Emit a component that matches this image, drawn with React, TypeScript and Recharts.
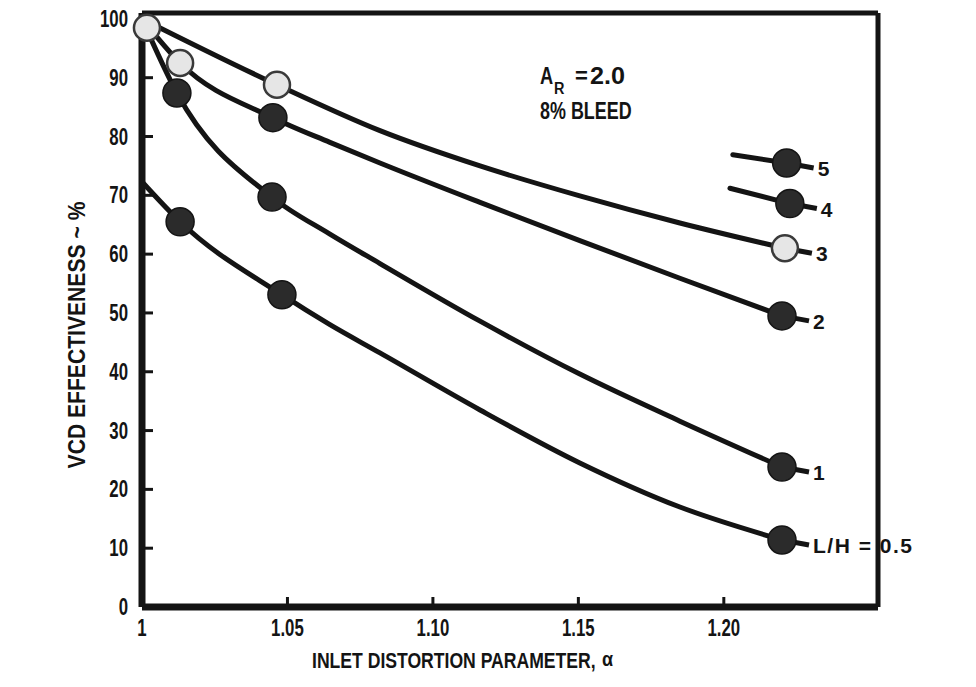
import { ComposedChart, Line, Scatter, XAxis, YAxis, ReferenceLine, Label } from 'recharts';

type Pt = { a: number; v: number };

const FONT = "'Liberation Sans', Arial, sans-serif";
const INK = '#141414';
const X_MAX = 1.253;
const Y_MAX = 101;

const xTicks = [1, 1.05, 1.1, 1.15, 1.2];
const yTicks = [0, 10, 20, 30, 40, 50, 60, 70, 80, 90, 100];

// traced curves: a = inlet distortion parameter, v = VCD effectiveness (%)
const curve05: Pt[] = [
  { a: 1.0, v: 72.3 }, { a: 1.0131, v: 65.5 }, { a: 1.0481, v: 53.1 }, { a: 1.0646, v: 48.0 },
  { a: 1.0818, v: 43.2 }, { a: 1.1162, v: 33.5 }, { a: 1.1505, v: 24.5 }, { a: 1.1849, v: 17.0 },
  { a: 1.22, v: 11.4 },
];
const curve1: Pt[] = [
  { a: 1.0, v: 100 }, { a: 1.012, v: 87.4 }, { a: 1.0447, v: 69.7 }, { a: 1.0646, v: 63.4 },
  { a: 1.0818, v: 58.4 }, { a: 1.1162, v: 48.6 }, { a: 1.1505, v: 39.6 }, { a: 1.1849, v: 31.6 },
  { a: 1.22, v: 23.8 },
];
const curve2: Pt[] = [
  { a: 1.0, v: 100 }, { a: 1.0131, v: 92.5 }, { a: 1.045, v: 83.2 }, { a: 1.0646, v: 79.0 },
  { a: 1.0818, v: 75.5 }, { a: 1.1162, v: 68.8 }, { a: 1.1505, v: 62.3 }, { a: 1.1849, v: 55.9 },
  { a: 1.22, v: 49.5 },
];
const curve3: Pt[] = [
  { a: 1.0, v: 100 }, { a: 1.0464, v: 88.8 }, { a: 1.0818, v: 81.0 }, { a: 1.1162, v: 75.0 },
  { a: 1.1505, v: 69.9 }, { a: 1.1849, v: 65.3 }, { a: 1.221, v: 61.0 },
];
const curve4: Pt[] = [{ a: 1.2021, v: 71.2 }, { a: 1.2227, v: 68.6 }];
const curve5: Pt[] = [{ a: 1.2031, v: 76.9 }, { a: 1.2216, v: 75.5 }];

// test points, solid and open symbols
const solid05: Pt[] = [{ a: 1.0131, v: 65.5 }, { a: 1.0481, v: 53.1 }, { a: 1.22, v: 11.4 }];
const solid1: Pt[] = [{ a: 1.012, v: 87.4 }, { a: 1.0447, v: 69.7 }, { a: 1.22, v: 23.8 }];
const solid2: Pt[] = [{ a: 1.045, v: 83.2 }, { a: 1.22, v: 49.5 }];
const open2: Pt[] = [{ a: 1.0131, v: 92.5 }];
const open3: Pt[] = [{ a: 1.0017, v: 98.5 }, { a: 1.0464, v: 88.8 }, { a: 1.221, v: 61.0 }];
const solid4: Pt[] = [{ a: 1.2227, v: 68.6 }];
const solid5: Pt[] = [{ a: 1.2216, v: 75.5 }];

const seriesLabels = ['L/H = 0.5', '1', '2', '3', '4', '5'];

const series = [
  { curve: curve05, solid: solid05, open: [] as Pt[] },
  { curve: curve1, solid: solid1, open: [] as Pt[] },
  { curve: curve2, solid: solid2, open: open2 },
  { curve: curve3, solid: [] as Pt[], open: open3 },
  { curve: curve4, solid: solid4, open: [] as Pt[] },
  { curve: curve5, solid: solid5, open: [] as Pt[] },
];

// tag goes on the right-most symbol of each L/H line
const ends = series.map((s, i) => {
  const pts = [...s.solid, ...s.open];
  const last = pts.reduce((m, p) => (p.a > m.a ? p : m), pts[0]);
  return { ...last, label: seriesLabels[i] };
});

const fmtX = (v: number) => (v === 1 ? '1' : v.toFixed(2));

// bold lettering squeezed horizontally, y is the baseline
const CondText = ({ x, y, size, sx = 0.74, anchor = 'start', rotate = 0, spacing, children }: any) => (
  <text
    transform={`translate(${x} ${y})${rotate ? ` rotate(${rotate})` : ''} scale(${sx} 1)`}
    textAnchor={anchor}
    fontSize={size}
    fontFamily={FONT}
    fontWeight={700}
    fill={INK}
    letterSpacing={spacing}
  >
    {children}
  </text>
);

const YTick = (p: any) => (
  <CondText x={p.x} y={p.y + 8} size={24} sx={0.7} anchor="end">
    {p.payload.value}
  </CondText>
);

const XTick = (p: any) => (
  <CondText x={p.x} y={p.y + 17} size={24} sx={0.7} anchor="middle">
    {fmtX(p.payload.value)}
  </CondText>
);

const SolidDot = (p: any) => (
  <circle cx={p.cx} cy={p.cy} r={14} fill="#2b2b2b" stroke={INK} strokeWidth={1.5} />
);

const OpenDot = (p: any) => (
  <circle cx={p.cx} cy={p.cy} r={13} fill="#e6e6e6" stroke="#3a3a3a" strokeWidth={2.5} />
);

const EndTag = (p: any) => {
  const { cx, cy, payload } = p;
  return (
    <g>
      <line x1={cx} y1={cy} x2={cx + 27} y2={cy + 5} stroke={INK} strokeWidth={5} />
      <CondText x={cx + 31} y={cy + 13} size={21} sx={1} spacing={1.5}>
        {payload.label}
      </CondText>
    </g>
  );
};

export default function App() {
  return (
    <div style={{ position: 'absolute', left: 0, top: 0, width: 976, height: 687, background: '#fff' }}>
      <ComposedChart width={976} height={687} margin={{ top: 13, right: 98, left: 0, bottom: 0 }}>
        <XAxis
          type="number"
          dataKey="a"
          domain={[1, X_MAX]}
          ticks={xTicks}
          height={80}
          axisLine={{ stroke: INK, strokeWidth: 7 }}
          tickLine={{ stroke: INK, strokeWidth: 3 }}
          tickSize={-10}
          tickMargin={22}
          tick={XTick}
        >
          <Label
            content={(props: any) => {
              const vb = props.viewBox;
              return (
                <g>
                  <CondText x={vb.x + 170} y={vb.y + 61} size={22} sx={0.8}>
                    INLET DISTORTION PARAMETER,
                  </CondText>
                  <CondText x={vb.x + 460} y={vb.y + 59} size={20} sx={0.9}>
                    α
                  </CondText>
                </g>
              );
            }}
          />
        </XAxis>
        <YAxis
          type="number"
          dataKey="v"
          domain={[0, Y_MAX]}
          ticks={yTicks}
          width={142}
          axisLine={{ stroke: INK, strokeWidth: 7 }}
          tickLine={{ stroke: INK, strokeWidth: 3 }}
          tickSize={-11}
          tickMargin={25}
          tick={YTick}
        >
          <Label
            content={(props: any) => {
              const vb = props.viewBox;
              return (
                <CondText
                  x={vb.x + 85}
                  y={vb.y + vb.height / 2 + 25}
                  size={24}
                  sx={0.88}
                  rotate={-90}
                  anchor="middle"
                >
                  VCD EFFECTIVENESS ~ %
                </CondText>
              );
            }}
          />
        </YAxis>

        <ReferenceLine y={Y_MAX} stroke={INK} strokeWidth={5} />
        <ReferenceLine x={X_MAX} stroke={INK} strokeWidth={5} />

        {series.map((s, i) => (
          <Line
            key={`c${i}`}
            data={s.curve}
            dataKey="v"
            type="monotone"
            stroke={INK}
            strokeWidth={5}
            strokeLinecap="round"
            dot={false}
            activeDot={false}
            isAnimationActive={false}
          />
        ))}

        <Scatter data={ends} shape={EndTag} isAnimationActive={false} />

        {series.map((s, i) => (
          <Scatter key={`s${i}`} data={s.solid} shape={SolidDot} isAnimationActive={false} />
        ))}
        {series.map((s, i) => (
          <Scatter key={`o${i}`} data={s.open} shape={OpenDot} isAnimationActive={false} />
        ))}
      </ComposedChart>

      <svg
        width={976}
        height={687}
        style={{ position: 'absolute', left: 0, top: 0, pointerEvents: 'none' }}
      >
        <CondText x={540} y={84} size={24} sx={0.76}>A</CondText>
        <CondText x={554} y={94} size={17} sx={0.85}>R</CondText>
        <CondText x={575} y={83} size={22} sx={1}>=</CondText>
        <CondText x={590} y={84} size={24} sx={1.05}>2.0</CondText>
        <CondText x={540} y={119} size={23} sx={0.78}>8% BLEED</CondText>
      </svg>
    </div>
  );
}
